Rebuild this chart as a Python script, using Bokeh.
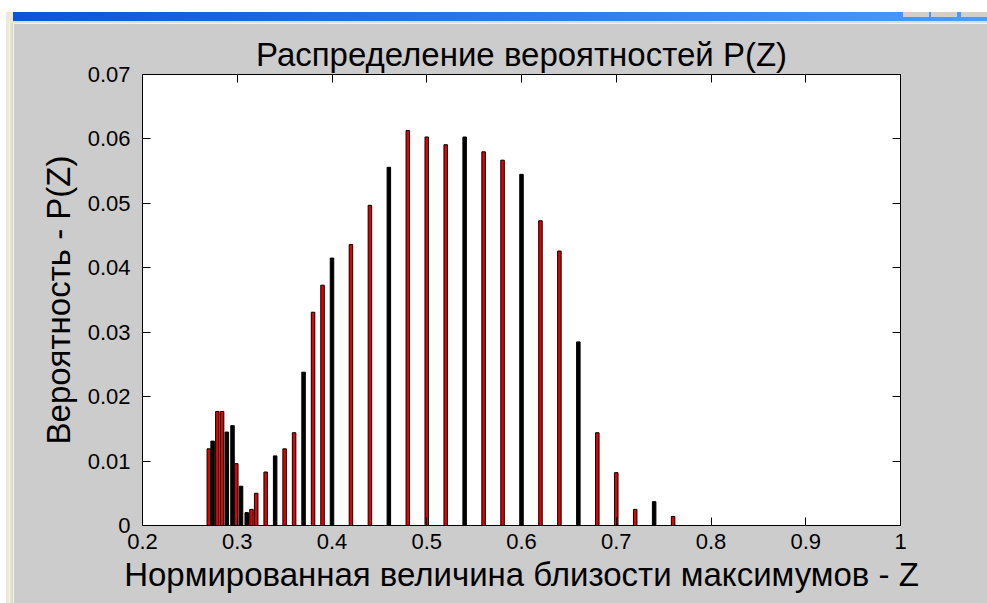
from bokeh.plotting import figure
from bokeh.models import (Range1d, FixedTicker, LinearAxis, CustomJSTickFormatter,
                          Div, ColumnDataSource)
from bokeh.layouts import column, row
from bokeh.embed import file_html
from bokeh.resources import INLINE

# Normalised proximity of maxima Z and the probability of each value
z_values = [0.270, 0.274, 0.279, 0.284, 0.289, 0.295, 0.299, 0.304, 0.310, 0.315,
            0.320, 0.33, 0.34, 0.35, 0.36, 0.37, 0.38, 0.39, 0.40, 0.42,
            0.44, 0.46, 0.48, 0.50, 0.52, 0.54, 0.56, 0.58, 0.60, 0.62,
            0.64, 0.66, 0.68, 0.70, 0.72, 0.74, 0.76]
p_values = [0.0119, 0.0131, 0.0177, 0.0177, 0.0145, 0.0155, 0.0096, 0.0061, 0.0020, 0.0025,
            0.0050, 0.0083, 0.0108, 0.0119, 0.0144, 0.0238, 0.0331, 0.0373, 0.0415, 0.0436,
            0.0497, 0.0556, 0.0613, 0.0603, 0.0591, 0.0603, 0.0580, 0.0567, 0.0545, 0.0473,
            0.0426, 0.0285, 0.0144, 0.0082, 0.0025, 0.0037, 0.0014]
# bars whose red face collapses into the black edge when rasterised
dark_face = [0, 1, 0, 0, 1, 1, 0, 1, 1, 0,
             0, 0, 1, 0, 0, 1, 0, 0, 1, 0,
             0, 1, 0, 0, 0, 1, 0, 0, 1, 0,
             0, 1, 0, 0, 0, 1, 0]

x_ticks = [0.2, 0.3, 0.4, 0.5, 0.6, 0.7, 0.8, 0.9, 1.0]
y_ticks = [0, 0.01, 0.02, 0.03, 0.04, 0.05, 0.06, 0.07]

title_text = "Распределение вероятностей P(Z)"
x_label = "Нормированная величина близости максимумов - Z"
y_label = "Вероятность - P(Z)"

FONT = "Liberation Sans"
GREY = "#cccccc"

src = ColumnDataSource(dict(
    z=z_values, p=p_values,
    face=["#000000" if d else "#e60000" for d in dark_face],
))

p = figure(width=974, height=580, output_backend="svg", toolbar_location=None,
           x_range=Range1d(0.2, 1.0), y_range=Range1d(0, 0.07),
           background_fill_color="white", border_fill_color=GREY,
           min_border_left=129, min_border_right=87, min_border_top=51,
           min_border_bottom=78, x_axis_type=None, y_axis_type=None)
p.outline_line_color = "black"
p.outline_line_width = 1
p.grid.visible = False

p.title.text = title_text
p.title.align = "center"
p.title.text_font = FONT
p.title.text_font_size = "33px"
p.title.text_font_style = "normal"
p.title.text_color = "black"
p.title.standoff = 4

fmt = CustomJSTickFormatter(code="return String(Number(tick.toFixed(2)));")
blank = CustomJSTickFormatter(code="return '';")


def style_axis(ax, labelled):
    ax.axis_line_color = "black"
    ax.major_tick_line_color = "black"
    ax.major_tick_in = 8
    ax.major_tick_out = 0
    ax.minor_tick_line_color = None
    if labelled:
        ax.major_label_text_font = FONT
        ax.major_label_text_font_size = "22px"
        ax.major_label_text_color = "black"
        ax.axis_label_text_font = FONT
        ax.axis_label_text_font_size = "33px"
        ax.axis_label_text_font_style = "normal"
        ax.axis_label_text_color = "black"


xb = LinearAxis(ticker=FixedTicker(ticks=x_ticks), formatter=fmt, axis_label=x_label)
style_axis(xb, True)
xb.major_label_standoff = 8
xb.axis_label_standoff = 4
p.add_layout(xb, "below")

yl = LinearAxis(ticker=FixedTicker(ticks=y_ticks), formatter=fmt, axis_label=y_label)
style_axis(yl, True)
yl.major_label_standoff = 12
yl.axis_label_standoff = 8
p.add_layout(yl, "left")

xt = LinearAxis(ticker=FixedTicker(ticks=x_ticks), formatter=blank)
style_axis(xt, False)
xt.major_label_standoff = 0
p.add_layout(xt, "above")

yr = LinearAxis(ticker=FixedTicker(ticks=y_ticks), formatter=blank)
style_axis(yr, False)
yr.major_label_standoff = 0
p.add_layout(yr, "right")

p.vbar(x="z", top="p", bottom=0, width=0.0037, source=src,
       fill_color="face", line_color="black", line_width=1)

# window chrome around the figure
top_bar = Div(text="", width=987, height=23, styles={
    "background":
        "linear-gradient(#d4d0c8,#d4d0c8) 903px 12px/26px 5px no-repeat,"
        "linear-gradient(#d4d0c8,#d4d0c8) 931px 12px/26px 5px no-repeat,"
        "linear-gradient(#d4d0c8,#d4d0c8) 961px 12px/26px 5px no-repeat,"
        "linear-gradient(to right,#0a55da,#2f7ff0 60%,#4a9cff) 13px 12px/974px 9px no-repeat,"
        "linear-gradient(#dcdcdc,#dcdcdc) 13px 21px/974px 2px no-repeat,"
        "linear-gradient(to right,#ffffff 0 6px,#ece9d8 6px 13px,#ffffff 13px) 0 12px/987px 11px no-repeat,"
        "#ffffff",
    "margin": "0", "padding": "0",
})
left_bar = Div(text="", width=13, height=580, styles={
    "background": "linear-gradient(to right,#ffffff 0 6px,#ece9d8 6px 9px,"
                  "#f6f4ec 9px 10px,#e4e1d2 10px 12px,#d8d6cc 12px 13px)",
    "margin": "0", "padding": "0",
})

page = column(top_bar, row(left_bar, p, spacing=0), spacing=0)

open("out.html", "w").write(file_html(page, INLINE))
